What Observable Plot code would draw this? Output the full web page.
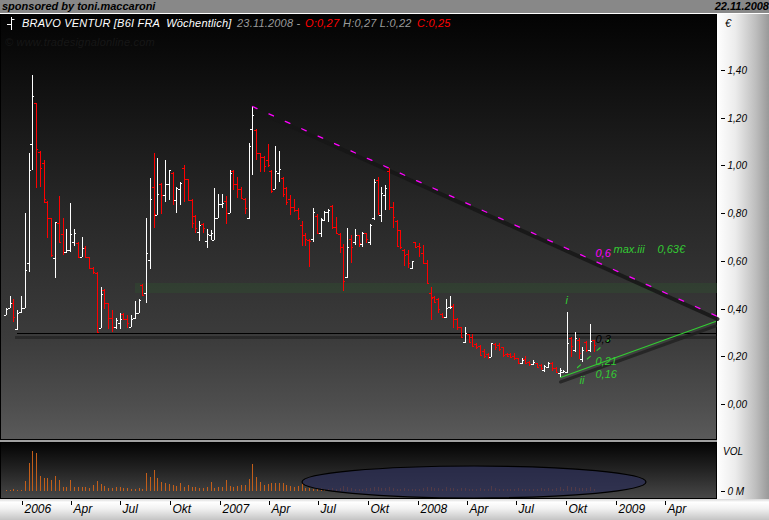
<!DOCTYPE html>
<html>
<head>
<meta charset="utf-8">
<script src="https://cdn.jsdelivr.net/npm/d3@7"></script>
<script src="https://cdn.jsdelivr.net/npm/@observablehq/plot@0.6"></script>
<style>
  body { margin: 0; background: #fff; }
  #chart { position: relative; width: 769px; height: 520px; overflow: hidden; background: #a0a0a0;
           font-family: "Liberation Sans", Arial, sans-serif; }
  #chart > * { position: absolute; }
  #banner { left: 0; top: 0; width: 769px; height: 13px; background: #888; border-bottom: 1px solid #fff; }
  #banner span { position: absolute; top: 0; font: italic bold 11px/13px "Liberation Sans", Arial, sans-serif; color: #000; }
  #pricePanel { left: 0; top: 14px; width: 717px; height: 426px; box-sizing: border-box;
                border: 1px solid #000; border-top: none;
                background: linear-gradient(to bottom, #030303 0%, #262626 44%, #3c3c3c 77%, #4e4e4e 92%, #5a5a5a 100%); }
  #axisPanel { left: 717px; top: 14px; width: 52px; height: 485px;
               background: linear-gradient(to right, #ffffff 0%, #ececec 35%, #bdbdbd 75%, #999 100%); }
  #volPanel { left: 0; top: 442px; width: 717px; height: 57px; box-sizing: border-box; border: 1px solid #000;
              background: linear-gradient(to bottom, #040404 0%, #242424 50%, #474747 100%); }
  #strip { left: 0; top: 499px; width: 769px; height: 21px;
           background: linear-gradient(to bottom, #d8d8d8 0%, #ffffff 15%, #f2f2f2 45%, #c4c4c4 100%); }
  .hdr { font: italic 11px/13px "Liberation Sans", Arial, sans-serif; letter-spacing: 0.2px; white-space: pre; top: 17px; }
  .w { color: #fff; } .g { color: #9a9a9a; } .r { color: #ff0000; }
  .side { font: italic 10px/12px "Liberation Sans", Arial, sans-serif; color: #000; }
</style>
</head>
<body>
<div id="chart">
  <div id="banner"><span style="left:2px">sponsored by toni.maccaroni</span><span style="right:0">22.11.2008</span></div>
  <div id="pricePanel"></div>
  <div id="axisPanel"></div>
  <div id="volPanel"></div>
  <div id="strip"></div>
</div>
<script>
// Weekly OHLC quotes, BRAVO VENTUR (Frankfurt), one bar per week ending Friday
const firstWeek = "2005-12-02";
const opens = [
  0.372,0.401,0.422,0.314,0.385,0.401,0.590,1.088,1.259,1.057,
  1.008,0.848,0.778,0.611,0.760,0.713,0.639,0.646,0.681,0.676,
  0.618,0.653,0.615,0.569,0.551,0.321,0.478,0.422,0.360,0.325,
  0.339,0.378,0.356,0.325,0.360,0.383,0.499,0.464,0.604,0.911,
  0.792,0.922,0.876,0.922,0.969,0.855,0.899,0.987,0.941,0.855,
  0.788,0.722,0.754,0.685,0.708,0.687,0.778,0.838,0.852,0.799,
  0.978,0.922,0.899,0.858,0.778,1.150,1.148,1.050,1.036,1.022,
  0.978,0.899,0.969,0.946,0.904,0.858,0.824,0.813,0.750,0.708,
  0.687,0.690,0.788,0.715,0.771,0.806,0.830,0.743,0.713,0.660,
  0.531,0.690,0.681,0.708,0.671,0.715,0.681,0.778,0.939,0.792,
  0.876,0.978,0.824,0.768,0.729,0.646,0.629,0.569,0.680,0.662,
  0.632,0.590,0.464,0.450,0.440,0.378,0.364,0.406,0.411,0.356,
  0.322,0.262,0.294,0.283,0.252,0.244,0.224,0.211,0.197,0.252,
  0.248,0.238,0.211,0.211,0.202,0.192,0.171,0.188,0.178,0.169,
  0.171,0.164,0.144,0.157,0.174,0.151,0.132,0.137,0.137,0.276,
  0.227,0.269,0.188,0.262,0.227,0.27
];
const highs = [
  0.401,0.453,0.439,0.395,0.453,0.799,1.050,1.378,1.259,1.060,
  1.022,0.851,0.778,0.764,0.872,0.778,0.733,0.841,0.732,0.681,
  0.699,0.662,0.618,0.573,0.555,0.492,0.481,0.425,0.395,0.360,
  0.381,0.381,0.374,0.374,0.434,0.439,0.503,0.778,0.945,1.050,
  1.029,0.927,1.022,0.980,0.973,0.911,0.931,1.001,0.943,0.858,
  0.792,0.767,0.760,0.732,0.729,0.904,0.880,0.880,0.872,0.980,
  0.980,0.952,0.911,0.862,1.092,1.248,1.150,1.053,1.039,1.089,
  0.980,1.081,1.061,0.950,0.908,0.876,0.858,0.820,0.768,0.718,
  0.690,0.820,0.796,0.778,0.810,0.818,0.833,0.785,0.715,0.671,
  0.736,0.708,0.732,0.708,0.722,0.718,0.754,0.941,0.950,0.908,
  0.918,0.987,0.848,0.771,0.729,0.648,0.646,0.601,0.680,0.676,
  0.667,0.604,0.489,0.453,0.443,0.381,0.439,0.453,0.420,0.360,
  0.325,0.325,0.294,0.294,0.255,0.248,0.230,0.216,0.258,0.258,
  0.255,0.241,0.213,0.213,0.213,0.192,0.192,0.202,0.183,0.185,
  0.174,0.169,0.164,0.178,0.178,0.155,0.151,0.144,0.388,0.283,
  0.304,0.276,0.241,0.266,0.336,0.27
];
const lows = [
  0.372,0.401,0.346,0.311,0.381,0.401,0.555,0.980,0.904,0.911,
  0.844,0.694,0.618,0.527,0.681,0.625,0.634,0.639,0.662,0.618,
  0.615,0.615,0.565,0.545,0.300,0.318,0.397,0.314,0.304,0.314,
  0.314,0.353,0.318,0.322,0.356,0.381,0.453,0.425,0.565,0.736,
  0.792,0.795,0.848,0.855,0.834,0.802,0.834,0.848,0.852,0.736,
  0.715,0.685,0.715,0.653,0.687,0.687,0.778,0.820,0.754,0.799,
  0.897,0.862,0.862,0.796,0.774,0.959,1.022,0.973,0.973,0.994,
  0.885,0.899,0.932,0.869,0.834,0.792,0.806,0.771,0.662,0.662,
  0.576,0.680,0.715,0.699,0.768,0.764,0.732,0.713,0.632,0.475,
  0.527,0.593,0.667,0.660,0.657,0.676,0.667,0.771,0.792,0.764,
  0.813,0.813,0.736,0.662,0.648,0.579,0.569,0.568,0.653,0.618,
  0.590,0.503,0.353,0.425,0.381,0.360,0.360,0.397,0.318,0.311,
  0.276,0.258,0.255,0.241,0.230,0.202,0.192,0.188,0.197,0.227,
  0.224,0.197,0.197,0.192,0.185,0.169,0.169,0.169,0.160,0.164,
  0.151,0.144,0.137,0.151,0.141,0.132,0.113,0.132,0.132,0.197,
  0.220,0.188,0.178,0.220,0.220,0.22
];
const closes = [
  0.397,0.422,0.364,0.381,0.401,0.562,0.980,1.290,1.067,0.987,
  0.858,0.778,0.625,0.761,0.681,0.639,0.646,0.713,0.718,0.618,
  0.653,0.618,0.569,0.555,0.304,0.461,0.422,0.360,0.325,0.353,
  0.356,0.356,0.339,0.356,0.381,0.436,0.456,0.632,0.858,0.796,
  0.880,0.876,0.922,0.980,0.855,0.904,0.927,0.941,0.855,0.760,
  0.736,0.750,0.736,0.713,0.715,0.778,0.838,0.841,0.799,0.966,
  0.922,0.899,0.862,0.820,1.081,1.210,1.050,1.036,0.997,1.001,
  0.894,0.978,0.983,0.880,0.848,0.824,0.813,0.778,0.708,0.690,
  0.685,0.806,0.718,0.774,0.806,0.815,0.743,0.718,0.660,0.517,
  0.660,0.660,0.708,0.674,0.715,0.690,0.750,0.932,0.799,0.883,
  0.904,0.827,0.782,0.662,0.660,0.625,0.593,0.601,0.660,0.660,
  0.593,0.509,0.443,0.430,0.400,0.365,0.402,0.409,0.356,0.322,
  0.283,0.297,0.262,0.244,0.238,0.206,0.202,0.197,0.255,0.238,
  0.230,0.206,0.202,0.199,0.192,0.174,0.185,0.174,0.169,0.178,
  0.157,0.151,0.160,0.174,0.151,0.137,0.144,0.141,0.258,0.244,
  0.276,0.213,0.227,0.227,0.266,0.25
];
// weekly turnover, thousand shares
const volumes = [
  25,25,38,25,25,250,700,1000,950,368,318,318,268,383,268,93,93,268,93,93,
  93,93,68,143,243,168,118,68,68,93,93,68,68,
  58,50,68,58,
  443,350,525,325,225,193,168,150,125,193,108,150,108,93,68,68,108,233,68,93,
  108,275,125,108,125,150,150,293,675,358,233,150,175,193,193,193,208,150,125,93,125,208,
  68,83,58,50,68,50,58,75,58,83,
  125,100,68,50,58,50,68,75,108,93,
  68,68,100,75,58,50,68,58,43,50,
  58,75,93,108,75,68,58,100,83,75,
  58,68,83,50,58,50,75,58,50,118,
  68,58,50,43,50,58,68,50,58,43,
  50,58,68,50,75,58,68,93,58,125,
  93,100,83,68,75,108,58
];

// Axis ticks
const priceTicks = [0, 0.2, 0.4, 0.6, 0.8, 1.0, 1.2, 1.4];
const timeTicks = ["2006-01-01","2006-04-01","2006-07-01","2006-10-01","2007-01-01","2007-04-01",
                   "2007-07-01","2007-10-01","2008-01-01","2008-04-01","2008-07-01","2008-10-01",
                   "2009-01-01","2009-04-01"];
const timeTickLabels = ["2006","Apr","Jul","Okt","2007","Apr","Jul","Okt","2008","Apr","Jul","Okt","2009","Apr"];

// Drawing tools
const supportZone = {from: "2006-07-28", to: "2009-07-06", low: 0.467, high: 0.509};
const baseLevel = {value: 0.30, from: "2005-12-22", shadowFrom: "2005-12-19", to: "2009-07-06"};
const downTrend = [{date: "2007-03-02", value: 1.248}, {date: "2009-07-06", value: 0.369}];
const upTrend = [{date: "2008-09-19", value: 0.113}, {date: "2009-07-03", value: 0.3485}];
const steepTrend = [{date: "2008-10-21", value: 0.154}, {date: "2009-01-01", value: 0.298}];
const notes = [
  {date: "2008-09-29", value: 0.438, label: "i", color: "#33cc33"},
  {date: "2008-10-25", value: 0.102, label: "ii", color: "#33cc33"},
  {date: "2008-11-23", value: 0.273, label: "0,3", color: "#000000"},
  {date: "2008-11-23", value: 0.181, label: "0,21", color: "#33cc33"},
  {date: "2008-11-23", value: 0.127, label: "0,16", color: "#33cc33"},
  {date: "2008-11-23", value: 0.634, label: "0,6", color: "#ff00ff"},
  {date: "2008-12-27", value: 0.648, label: "max.iii", color: "#33cc33"},
  {date: "2009-03-17", value: 0.648, label: "0,63€", color: "#33cc33"}
];
const volumeZone = {from: "2007-06-01", to: "2009-02-25", top: 625};

// ---------------------------------------------------------------
const parse = s => new Date(s);
const start = parse(firstWeek);
const bars = opens.map((o, i) => ({
  date: d3.utcDay.offset(start, 7 * i),
  open: o, high: highs[i], low: lows[i], close: closes[i], volume: volumes[i]
}));
const up = bars.filter(d => d.close >= d.open);
const down = bars.filter(d => d.close < d.open);
const pts = a => a.map(d => ({...d, date: parse(d.date)}));

const xOpts = () => ({type: "utc", domain: [parse("2006-01-01"), parse("2009-01-01")], range: [22, 616], round: true, axis: null});
const svgStyle = {background: "transparent", overflow: "visible", color: "#000", fontFamily: "Liberation Sans, Arial, sans-serif"};
const comma = d => d.toFixed(2).replace(".", ",");

function ohlc(data, color) {
  return [
    Plot.ruleX(data, {x: "date", y1: "low", y2: "high", stroke: color}),
    Plot.ruleY(data, {y: "open", x1: "date", x2: "date", insetLeft: -2, insetRight: 0, stroke: color}),
    Plot.ruleY(data, {y: "close", x1: "date", x2: "date", insetLeft: 0, insetRight: -2, stroke: color})
  ];
}

const pricePlot = Plot.plot({
  width: 769, height: 425,
  marginTop: 0, marginBottom: 0, marginLeft: 0, marginRight: 49,
  style: svgStyle,
  x: xOpts(),
  y: {domain: [-0.1452, 1.6331], round: true, label: null},
  color: {type: "identity"},
  marks: [
    Plot.rect([supportZone], {x1: d => parse(d.from), x2: d => parse(d.to), y1: "low", y2: "high", fill: "#2f4a30", fillOpacity: 0.5}),
    Plot.ruleY([baseLevel], {y: "value", x1: d => parse(d.shadowFrom), x2: d => parse(d.to), dy: 4, stroke: "#151515", strokeOpacity: 0.45, strokeWidth: 3}),
    Plot.ruleY([baseLevel], {y: "value", x1: d => parse(d.from), x2: d => parse(d.to), stroke: "#000"}),
    Plot.line(pts(downTrend), {x: "date", y: "value", stroke: "#161616", strokeOpacity: 0.85, strokeWidth: 4, dy: 2.5}),
    ...ohlc(down, "#ff0000"),
    ...ohlc(up, "#ffffff"),
    Plot.line(pts(downTrend), {x: "date", y: "value", stroke: "#ff00ff", strokeWidth: 1.3, strokeDasharray: "5,13"}),
    Plot.line(pts(upTrend), {x: "date", y: "value", stroke: "#202020", strokeOpacity: 0.8, strokeWidth: 3, dy: 4.5}),
    Plot.line(pts(upTrend), {x: "date", y: "value", stroke: "#33cc33", strokeWidth: 1.2}),
    Plot.line(pts(steepTrend), {x: "date", y: "value", stroke: "#33cc33", strokeWidth: 1.2, strokeDasharray: "4,9"}),
    Plot.text(pts(notes), {x: "date", y: "value", text: "label", fill: "color", textAnchor: "start",
                           fontSize: 11, fontStyle: "italic"}),
    Plot.axisY(priceTicks, {anchor: "right", tickSize: 4, tickPadding: 3, tickFormat: comma, label: null,
                            fontSize: 10, fontStyle: "italic"})
  ]
});

function zoneEllipse(index, scales, values, dims) {
  const {x, y} = scales;
  const x1 = x(parse(volumeZone.from)), x2 = x(parse(volumeZone.to));
  const top = y(volumeZone.top), bottom = dims.height - dims.marginBottom;
  return d3.create("svg:ellipse")
    .attr("cx", (x1 + x2) / 2).attr("cy", (top + bottom) / 2)
    .attr("rx", (x2 - x1) / 2).attr("ry", (bottom - top) / 2)
    .attr("fill", "#2c2f56").attr("fill-opacity", 0.75)
    .attr("stroke", "#000").attr("stroke-width", 1.2)
    .node();
}

const volumePlot = Plot.plot({
  width: 769, height: 55,
  marginTop: 0, marginBottom: 0, marginLeft: 0, marginRight: 49,
  style: svgStyle,
  x: xOpts(),
  y: {domain: [0, 1000], range: [48, 8], round: true, label: null},
  marks: [
    Plot.ruleX(bars, {x: "date", y1: 0, y2: "volume", stroke: "#c25e1a"}),
    zoneEllipse,
    Plot.axisY([0], {anchor: "right", tickSize: 4, tickPadding: 3, tickFormat: () => "0 M", label: null,
                     fontSize: 10, fontStyle: "italic"})
  ]
});

const timePlot = Plot.plot({
  width: 769, height: 21,
  marginTop: 2, marginBottom: 15, marginLeft: 0, marginRight: 49,
  style: svgStyle,
  x: xOpts(),
  marks: [
    Plot.tickX(timeTicks, {x: d => parse(d), stroke: "#000"}),
    Plot.text(timeTicks, {x: d => parse(d), text: (d, i) => timeTickLabels[i], frameAnchor: "bottom",
                          dy: 7, dx: 2, textAnchor: "start", fontSize: 12, fontStyle: "italic", fill: "#000"})
  ]
});

const chart = document.getElementById("chart");
function place(node, left, top) {
  node.style.position = "absolute";
  node.style.left = left + "px";
  node.style.top = top + "px";
  chart.appendChild(node);
}
place(pricePlot, 0, 14);
place(volumePlot, 0, 443);
place(timePlot, 0, 499);

// Header, watermark and side labels
function label(html, cls, left, top, extra = "") {
  const el = document.createElement("div");
  el.className = cls;
  el.innerHTML = html;
  el.style.cssText += `position:absolute;left:${left}px;top:${top}px;${extra}`;
  chart.appendChild(el);
}
label(`<svg width="10" height="15"><path d="M5.5 1V14M1 8.5H5.5M5.5 3.5H8.5" stroke="#fff" stroke-width="1" fill="none"/></svg>`, "", 6, 16);
label("BRAVO VENTUR [B6I FRA  Wöchentlich]", "hdr w", 22, 17);
label("23.11.2008 -", "hdr g", 237, 17);
label("O:0,27", "hdr r", 305, 17);
label("H:0,27 L:0,22", "hdr g", 343, 17);
label("C:0,25", "hdr r", 417, 17);
label("© www.tradesignalonline.com", "hdr", 5, 36, "color:#171717;");
label("€", "side", 725, 17, "font-size:11px;");
label("VOL", "side", 723, 446);
</script>
</body>
</html>
